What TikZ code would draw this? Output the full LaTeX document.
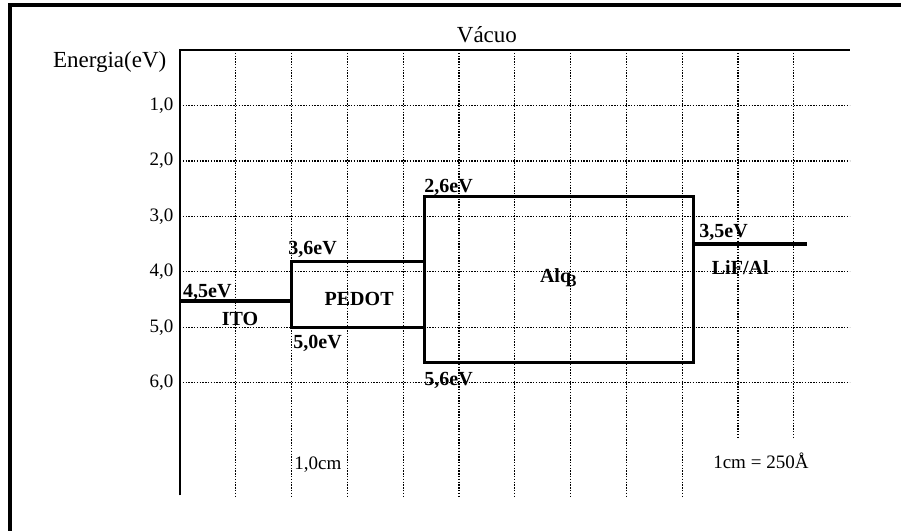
\documentclass[tikz,border=0pt]{standalone}
\usepackage{fontspec}
\setmainfont{Liberation Serif}
\usepackage{tikz}
\usetikzlibrary{positioning}
\tikzset{
  gridline/.style={line width=0.6pt, dash pattern=on 0.7pt off 0.7pt},
  levelbox/.style={line width=1.5pt},
  levelline/.style={line width=2pt},
  evlabel/.style={anchor=west, inner sep=0pt, font=\fontsize{10}{12}\selectfont\bfseries},
  layername/.style={inner sep=0pt, font=\fontsize{10}{12}\selectfont\bfseries},
  ticklabel/.style={anchor=east, inner sep=0pt, font=\fontsize{9.5}{11}\selectfont}
}

\begin{document}
\begin{tikzpicture}[x=0.98cm, y=-0.974cm]
    \useasboundingbox (-3.226, -0.9025) rectangle (12.921, 8.664);
    % frame
    \draw[line width=2pt] (-3.047, 8.7) -- (-3.047, -0.812) -- (13.0, -0.812);

    % grid
    \foreach \e in {1,...,6}
      \draw[gridline] (0, \e) -- (12, \e);
    \foreach \x in {1,...,9}
      \draw[gridline] (\x, 0) -- (\x, 8.07);
    \foreach \x in {10,11}
      \draw[gridline] (\x, 0) -- (\x, 7.02);

    % axes
    \draw[line width=1pt] (0, 8.03) -- (0, 0) -- (12, 0);
    \foreach \e in {1,...,6}
      \node[ticklabel] (tick\e) at (-0.11, \e) {\e,0};
    \node (vacuo) at (5.50, -0.27) {\fontsize{11.5}{13}\selectfont V\'acuo};
    \node (energia) at (-1.26, 0.22) {\fontsize{11.5}{13}\selectfont Energia(eV)};

    % levels
    \draw[levelline] (0, 4.53) -- (2, 4.53);
    \draw[levelbox] (2, 3.81) rectangle (4.373, 5.0);
    \draw[levelbox] (4.373, 2.635) rectangle (9.21, 5.63);
    \draw[levelline] (9.21, 3.50) -- (11.24, 3.50);

    \node[evlabel] (itoev) at (0.05, 4.37) {4,5eV};
    \node[layername] (ito) at (1.075, 4.84) {ITO};
    \node[evlabel] (pedotlumo) at (1.935, 3.59) {3,6eV};
    \node[layername] (pedot) at (3.21, 4.49) {PEDOT};
    \node[evlabel] (pedothomo) at (2.025, 5.29) {5,0eV};
    \node[evlabel] (alqlumo) at (4.373, 2.47) {2,6eV};
    \node[evlabel] (alqhomo) at (4.373, 5.96) {5,6eV};
    \node[layername] (alq) at (6.78, 4.1) {Alq\kern-1.5pt\raisebox{-2.2pt}{\fontsize{8.5}{10}\selectfont 3}};
    \node[evlabel] (lifev) at (9.30, 3.285) {3,5eV};
    \node[layername] (lif) at (10.04, 3.92) {LiF/Al};

    \node (escala) at (2.47, 7.47) {\fontsize{9.5}{11}\selectfont 1,0cm};
    \node (angstrom) at (10.41, 7.40) {\fontsize{9.5}{11}\selectfont 1cm = 250\AA};
\end{tikzpicture}
\end{document}
